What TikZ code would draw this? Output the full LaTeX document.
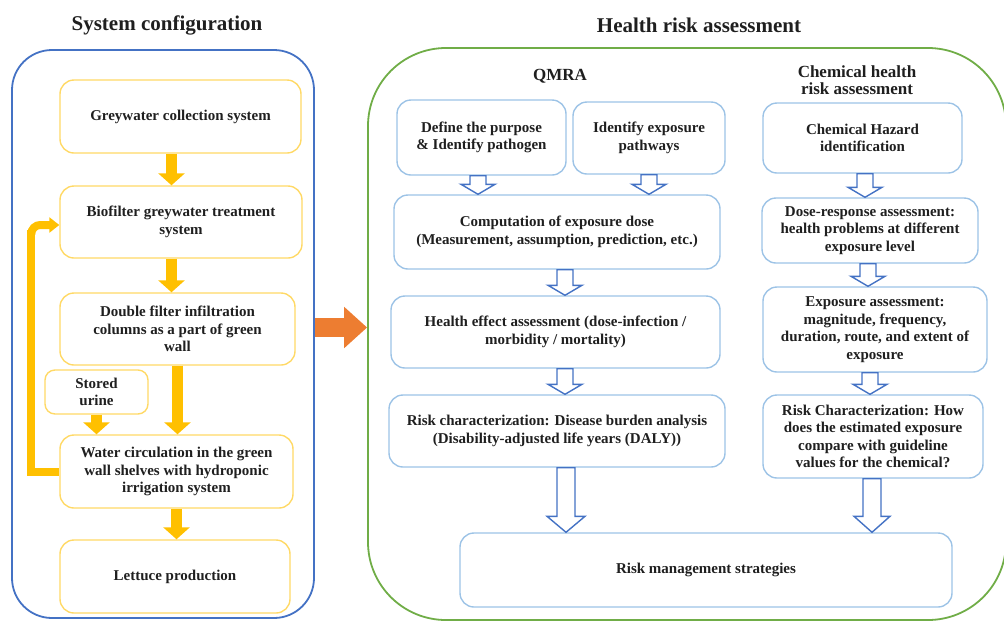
\documentclass[tikz,border=0pt]{standalone}
\usepackage{fontspec}
\setmainfont{Liberation Serif}
\usetikzlibrary{arrows.meta,calc}
\definecolor{gold}{HTML}{FFC000}
\definecolor{ybord}{HTML}{FFD966}
\definecolor{bbord}{HTML}{9DC3E6}
\definecolor{barr}{HTML}{4472C4}
\definecolor{pblue}{HTML}{4472C4}
\definecolor{pgreen}{HTML}{70AD47}
\definecolor{orng}{HTML}{ED7D31}
\newcommand{\hollowarr}[5]{%
  \draw[harr] let \p1=(#1), \p2=(#2) in
    (\x1-#3pt,\y1) -- (\x1-#3pt,\y2+#5pt) -- (\x1-#4pt,\y2+#5pt) -- (\x1,\y2)
    -- (\x1+#4pt,\y2+#5pt) -- (\x1+#3pt,\y2+#5pt) -- (\x1+#3pt,\y1) -- cycle;}
\begin{document}
\begin{tikzpicture}[x=1pt,y=-1pt,
  txt/.style={font=\bfseries\fontsize{15}{17.5}\selectfont, align=center, text=black!88, inner sep=2pt},
  ybox/.style={txt, draw=ybord, line width=1.4pt, rounded corners=14pt},
  bbox/.style={txt, draw=bbord, line width=1.4pt, rounded corners=14pt},
  ttl/.style={font=\bfseries\fontsize{21}{24}\selectfont, text=black!88},
  sub/.style={font=\bfseries\fontsize{17}{17.5}\selectfont, align=center, text=black!88},
  yarr/.style={draw=gold, line width=11pt, -{Triangle[width=26pt,length=12pt]}},
  yline/.style={draw=gold, line width=8pt, -{Triangle[width=15pt,length=10pt]}},
  oarr/.style={draw=orng, line width=19pt, -{Triangle[width=40pt,length=23pt]}},
  harr/.style={draw=barr, fill=white, line width=1.4pt, line join=miter},
  panel/.style={line width=1.8pt}
]
\useasboundingbox (0,0) rectangle (1004,622);

% panels
\node[panel, draw=pblue, rounded corners=40pt, minimum width=302pt, minimum height=568pt] (lp) at (163,334) {};
\node[panel, draw=pgreen, rounded corners=78pt, minimum width=638pt, minimum height=572pt] (rp) at (687,334) {};

% titles
\node[ttl] (t1) at (167,25) {System configuration};
\node[ttl] (t2) at (699,25) {Health risk assessment};
\node[sub] (qm) at (560,76) {QMRA};
\node[sub] (ch) at (857,80) {Chemical health\\risk assessment};

% left boxes
\node[ybox, minimum width=241pt, minimum height=73pt] (g1) at (180.5,116.5) {Greywater collection system};
\node[ybox, minimum width=242pt, minimum height=72pt] (g2) at (181,222) {Biofilter greywater treatment\\system};
\node[ybox, minimum width=235pt, minimum height=72pt] (g3) at (177.5,329) {Double filter infiltration\\columns as a part of green\\wall};
\node[ybox, minimum width=103pt, minimum height=44pt, rounded corners=10pt] (su) at (96.5,392) {Stored\\urine};
\node[ybox, minimum width=233pt, minimum height=73pt] (w) at (176.5,471.5) {Water circulation in the green\\wall shelves with hydroponic\\irrigation system};
\node[ybox, minimum width=230pt, minimum height=73pt] (lt) at (175,576.5) {Lettuce production};

% yellow arrows
\draw[yarr] ([xshift=-9pt]g1.south) -- ([xshift=-9.5pt]g2.north);
\draw[yarr] ([xshift=-9.5pt]g2.south) -- ([xshift=-6pt]g3.north);
\draw[yarr] (g3.south) -- (g3.south |- w.north);
\draw[yarr] (su.south) -- (su.south |- w.north);
\draw[yarr] (w.south) -- (w.south |- lt.north);
\coordinate (fb) at ([xshift=-28pt]w.west);
\draw[draw=gold, line width=8pt] (w.west) -- (fb) -- ([yshift=-8pt]fb |- g2.west);
\draw[yline, rounded corners=9pt] ([yshift=-10pt]fb |- g2.west) |- ([yshift=-3pt]g2.west);

% orange arrow
\draw[oarr] ([yshift=6.5pt]lp.east) -- ([yshift=6.5pt]rp.west);

% QMRA boxes
\node[bbox, minimum width=169pt, minimum height=75pt] (q1) at (481.5,137.5) {Define the purpose\\\& Identify pathogen};
\node[bbox, minimum width=152pt, minimum height=72pt] (q2) at (649,138) {Identify exposure\\pathways};
\node[bbox, minimum width=326pt, minimum height=74pt] (q3) at (557,232) {Computation of exposure dose\\(Measurement, assumption, prediction, etc.)};
\node[bbox, minimum width=329pt, minimum height=72pt] (q4) at (555.5,332) {Health effect assessment (dose-infection /\\morbidity / mortality)};
\node[bbox, minimum width=336pt, minimum height=72pt] (q5) at (557,431) {Risk characterization: Disease burden analysis\\(Disability-adjusted life years (DALY))};
\node[bbox, minimum width=492pt, minimum height=74pt] (rm) at (706,570) {Risk management strategies};

% chemical boxes
\node[bbox, minimum width=199pt, minimum height=70pt] (c1) at (862.5,138) {Chemical Hazard\\identification};
\node[bbox, minimum width=216pt, minimum height=65pt] (c2) at (870,230.5) {Dose-response assessment:\\health problems at different\\exposure level};
\node[bbox, minimum width=224pt, minimum height=85pt] (c3) at (875,329.5) {Exposure assessment:\\magnitude, frequency,\\duration, route, and extent of\\exposure};
\node[bbox, minimum width=220pt, minimum height=83pt] (c4) at (873,436.5) {Risk Characterization: How\\does the estimated exposure\\compare with guideline\\values for the chemical?};

% hollow arrows
\hollowarr{[xshift=-3.5pt]q1.south}{q3.north}{8}{17}{10}
\hollowarr{q2.south}{q3.north}{8}{17}{10}
\hollowarr{[xshift=8pt]q3.south}{q4.north}{8}{17}{10}
\hollowarr{[xshift=9.5pt]q4.south}{q5.north}{8}{17}{10}
\hollowarr{[xshift=9pt]q5.south}{rm.north}{9}{19}{16}
\hollowarr{[xshift=2.5pt]c1.south}{c2.north}{8}{17}{10}
\hollowarr{[xshift=-2pt]c2.south}{c3.north}{8}{17}{10}
\hollowarr{[xshift=-5pt]c3.south}{c4.north}{8}{17}{10}
\hollowarr{[xshift=-1pt]c4.south}{rm.north}{9}{18}{16}
\end{tikzpicture}
\end{document}
